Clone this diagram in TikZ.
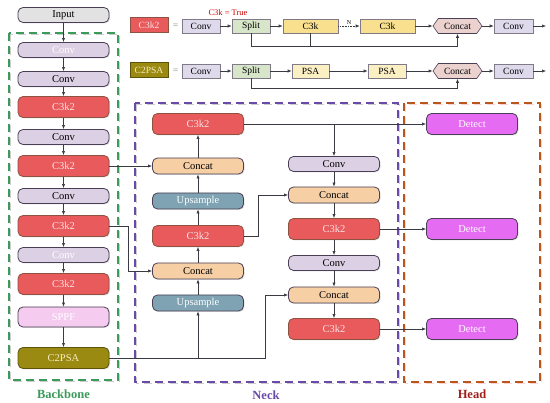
\documentclass[tikz,border=0pt]{standalone}
\usepackage{fontspec}
\setmainfont{Liberation Serif}
\usetikzlibrary{arrows.meta,shapes.symbols,shadows}
\definecolor{convfill}{HTML}{DCD0E4}
\definecolor{convline}{HTML}{4A3F55}
\definecolor{redfill}{HTML}{E85A5C}
\definecolor{redline}{HTML}{8B5340}
\definecolor{redtext}{HTML}{FCE4E4}
\definecolor{concatfill}{HTML}{F6CFA5}
\definecolor{upfill}{HTML}{7FA3B3}
\definecolor{detectfill}{HTML}{E56BF2}
\definecolor{sppffill}{HTML}{F5CBEF}
\definecolor{psafill}{HTML}{9B8A12}
\definecolor{psatext}{HTML}{F7EBC0}
\definecolor{inputfill}{HTML}{E2E2E2}
\definecolor{lgconv}{HTML}{DEDAEC}
\definecolor{lgsplit}{HTML}{D7E6C8}
\definecolor{lgc3k}{HTML}{F8E08E}
\definecolor{lgpsa}{HTML}{FBEFC4}
\definecolor{lgconcat}{HTML}{EBD2CF}
\definecolor{bbgreen}{HTML}{3C9A5A}
\definecolor{neckpurple}{HTML}{6A4AA8}
\definecolor{headbrown}{HTML}{B8561E}
\definecolor{headred}{HTML}{A0201A}
\definecolor{wire}{HTML}{3A3A42}
\begin{document}
\begin{tikzpicture}[x=1pt,y=-1pt,
  blk/.style={draw=convline, line width=0.8pt, rounded corners=5pt, minimum width=91pt,
    minimum height=15pt, inner sep=0pt, font=\fontsize{10.5}{11}\selectfont,
    drop shadow={opacity=0.25, shadow xshift=1pt, shadow yshift=-1pt}},
  convb/.style={blk, fill=convfill, text=black},
  convw/.style={blk, fill=convfill, text=white},
  c3b/.style={blk, fill=redfill, draw=redline, text=redtext, minimum height=21pt},
  catb/.style={blk, fill=concatfill, minimum height=16pt},
  upb/.style={blk, fill=upfill, text=white, minimum height=16pt},
  detb/.style={blk, fill=detectfill, text=white, minimum height=21pt},
  lg/.style={draw=convline!70, line width=0.6pt, minimum height=14pt, inner sep=0pt,
    font=\fontsize{9.5}{10}\selectfont},
  lghex/.style={lg, signal, signal to=west and east, signal pointer angle=110,
    fill=lgconcat, minimum width=49pt, minimum height=15pt, draw=convline},
  arr/.style={draw=wire, line width=0.6pt, -{Latex[length=4pt,width=3.2pt]}},
  ln/.style={draw=wire, line width=0.6pt},
  lbl/.style={font=\fontsize{12.5}{13}\selectfont\bfseries}
]
\useasboundingbox (0,0) rectangle (550,403);
% ---------- group boxes ----------
\draw[gray!40, line width=1.6pt, dash pattern=on 8pt off 5pt] (10.5,34.5) rectangle (119.5,381.5);
\draw[bbgreen, line width=1.5pt, dash pattern=on 8pt off 5pt] (9,33) rectangle (118,380);
\draw[gray!40, line width=1.6pt, dash pattern=on 8pt off 5pt] (136.5,104.5) rectangle (399.5,383.5);
\draw[neckpurple, line width=1.5pt, dash pattern=on 8pt off 5pt] (135,103) rectangle (398,382);
\draw[pink!70, line width=1.6pt, dash pattern=on 8pt off 5pt] (405.5,104.5) rectangle (541.5,383.5);
\draw[headbrown, line width=1.5pt, dash pattern=on 8pt off 5pt] (404,103) rectangle (540,382);
\node[lbl, text=bbgreen] (lbb) at (63.5,394) {Backbone};
\node[lbl, text=neckpurple] (lnk) at (266,395) {Neck};
\node[lbl, text=headred] (lhd) at (472,394) {Head};
% ---------- backbone ----------
\node[blk, fill=inputfill, text=black] (inp) at (63.5,15) {Input};
\node[convw] (b1) at (63.5,50) {Conv};
\node[convb] (b2) at (63.5,79) {Conv};
\node[c3b] (b3) at (63.5,107) {C3k2};
\node[convb] (b4) at (63.5,137) {Conv};
\node[c3b] (b5) at (63.5,166) {C3k2};
\node[convb] (b6) at (63.5,196) {Conv};
\node[c3b] (b7) at (63.5,226) {C3k2};
\node[convw] (b8) at (63.5,255) {Conv};
\node[c3b] (b9) at (63.5,284) {C3k2};
\node[blk, fill=sppffill, text=white, minimum height=20pt] (b10) at (63.5,317) {SPPF};
\node[blk, fill=psafill, draw=psafill!60!black, text=psatext, minimum height=21pt] (b11) at (63.5,358) {C2PSA};
\foreach \a/\b in {inp/b1,b1/b2,b2/b3,b3/b4,b4/b5,b5/b6,b6/b7,b7/b8,b8/b9,b9/b10,b10/b11}
  \draw[arr] (\a.south) -- (\b.north);
% ---------- neck ----------
\node[c3b] (n1) at (198,124) {C3k2};
\node[catb] (n2) at (198,166) {Concat};
\node[upb] (n3) at (198,201) {Upsample};
\node[c3b] (n4) at (198,236) {C3k2};
\node[catb] (n5) at (198,271) {Concat};
\node[upb] (n6) at (198,303) {Upsample};
\node[convb] (m1) at (334,164) {Conv};
\node[catb] (m2) at (334,195) {Concat};
\node[c3b] (m3) at (334,229) {C3k2};
\node[convb] (m4) at (334,263) {Conv};
\node[catb] (m5) at (334,295) {Concat};
\node[c3b] (m6) at (334,329) {C3k2};
% ---------- head ----------
\node[detb] (d1) at (472,124) {Detect};
\node[detb] (d2) at (472,229) {Detect};
\node[detb] (d3) at (472,329) {Detect};
% ---------- neck wiring ----------
\foreach \a/\b in {n6/n5,n5/n4,n4/n3,n3/n2,n2/n1}
  \draw[arr] (\a.north) -- (\b.south);
\foreach \a/\b in {m1/m2,m2/m3,m3/m4,m4/m5,m5/m6}
  \draw[arr] (\a.south) -- (\b.north);
\draw[arr] (b5.east) -- (n2.west);
\coordinate (j1) at (128,226);
\draw[arr] (b7.east) -- (j1) |- (n5.west);
\coordinate (j2) at (265,358);
\draw[arr] (b11.east) -- (j2) |- (m5.west);
\draw[arr] (b11.east -| n6.south) -- (n6.south);
\coordinate (j3) at (258,236);
\draw[arr] (n4.east) -- (j3) |- (m2.west);
\draw[arr] (n1.east) -- (d1.west);
\draw[arr] (n1.east -| m1.north) -- (m1.north);
\draw[arr] (m3.east) -- (d2.west);
\draw[arr] (m6.east) -- (d3.west);
% ---------- legend row 1 ----------
\node[lg, fill=redfill, draw=redline, text=redtext, minimum width=38pt, minimum height=15pt] (l1) at (149,25) {C3k2};
\node[font=\fontsize{9.5}{10}\selectfont, text=gray] (eq1) at (175.5,26) {=};
\node[lg, fill=lgconv, minimum width=38pt] (l1c) at (201,26) {Conv};
\node[lg, fill=lgsplit, minimum width=38pt] (l1s) at (251,26) {Split};
\node[lg, fill=lgc3k, minimum width=55pt] (l1k) at (310.5,26) {C3k};
\node[lg, fill=lgc3k, minimum width=55pt] (l1k2) at (387.5,26) {C3k};
\node[lghex] (l1h) at (457.5,26) {Concat};
\node[lg, fill=lgconv, minimum width=39pt] (l1o) at (513.5,26) {Conv};
\coordinate (l1e) at (546,26);
\node[text=red!80!black, font=\fontsize{8.5}{9}\selectfont] (ct) at (228,13) {C3k = True};
\draw[arr] (l1c.east) -- (l1s.west);
\draw[arr] (l1s.east) -- (l1k.west);
\draw[wire, line width=0.6pt, densely dotted, -{Latex[length=4pt,width=3.2pt]}] (l1k.east) -- node[above, font=\fontsize{6}{6}\selectfont, text=black, inner sep=1.5pt] {N} (l1k2.west);
\draw[arr] (l1k2.east) -- (l1h.west);
\draw[arr] (l1h.east) -- (l1o.west);
\draw[arr] (l1o.east) -- (l1e);
\coordinate (by1) at (251,46);
\draw[ln] (l1s.south) -- (by1);
\draw[arr] (by1) -| (l1h.south);
\draw[ln] (l1k.south) -- (l1k.south |- by1);
% ---------- legend row 2 ----------
\node[lg, fill=psafill, draw=psafill!60!black, text=psatext, minimum width=38pt, minimum height=15pt] (l2) at (149,70) {C2PSA};
\node[font=\fontsize{9.5}{10}\selectfont, text=gray] (eq2) at (175.5,71) {=};
\node[lg, fill=lgconv, minimum width=38pt] (l2c) at (201,71) {Conv};
\node[lg, fill=lgsplit, minimum width=38pt] (l2s) at (251,71) {Split};
\node[lg, fill=lgpsa, minimum width=37pt] (l2p) at (310.5,71) {PSA};
\node[lg, fill=lgpsa, minimum width=38pt] (l2p2) at (387,71) {PSA};
\node[lghex] (l2h) at (457.5,71) {Concat};
\node[lg, fill=lgconv, minimum width=39pt] (l2o) at (513.5,71) {Conv};
\coordinate (l2e) at (546,71);
\draw[arr] (l2c.east) -- (l2s.west);
\draw[arr] (l2s.east) -- (l2p.west);
\draw[arr] (l2p.east) -- (l2p2.west);
\draw[arr] (l2p2.east) -- (l2h.west);
\draw[arr] (l2h.east) -- (l2o.west);
\draw[arr] (l2o.east) -- (l2e);
\coordinate (by2) at (251,88);
\draw[ln] (l2s.south) -- (by2);
\draw[arr] (by2) -| (l2h.south);
\end{tikzpicture}
\end{document}
